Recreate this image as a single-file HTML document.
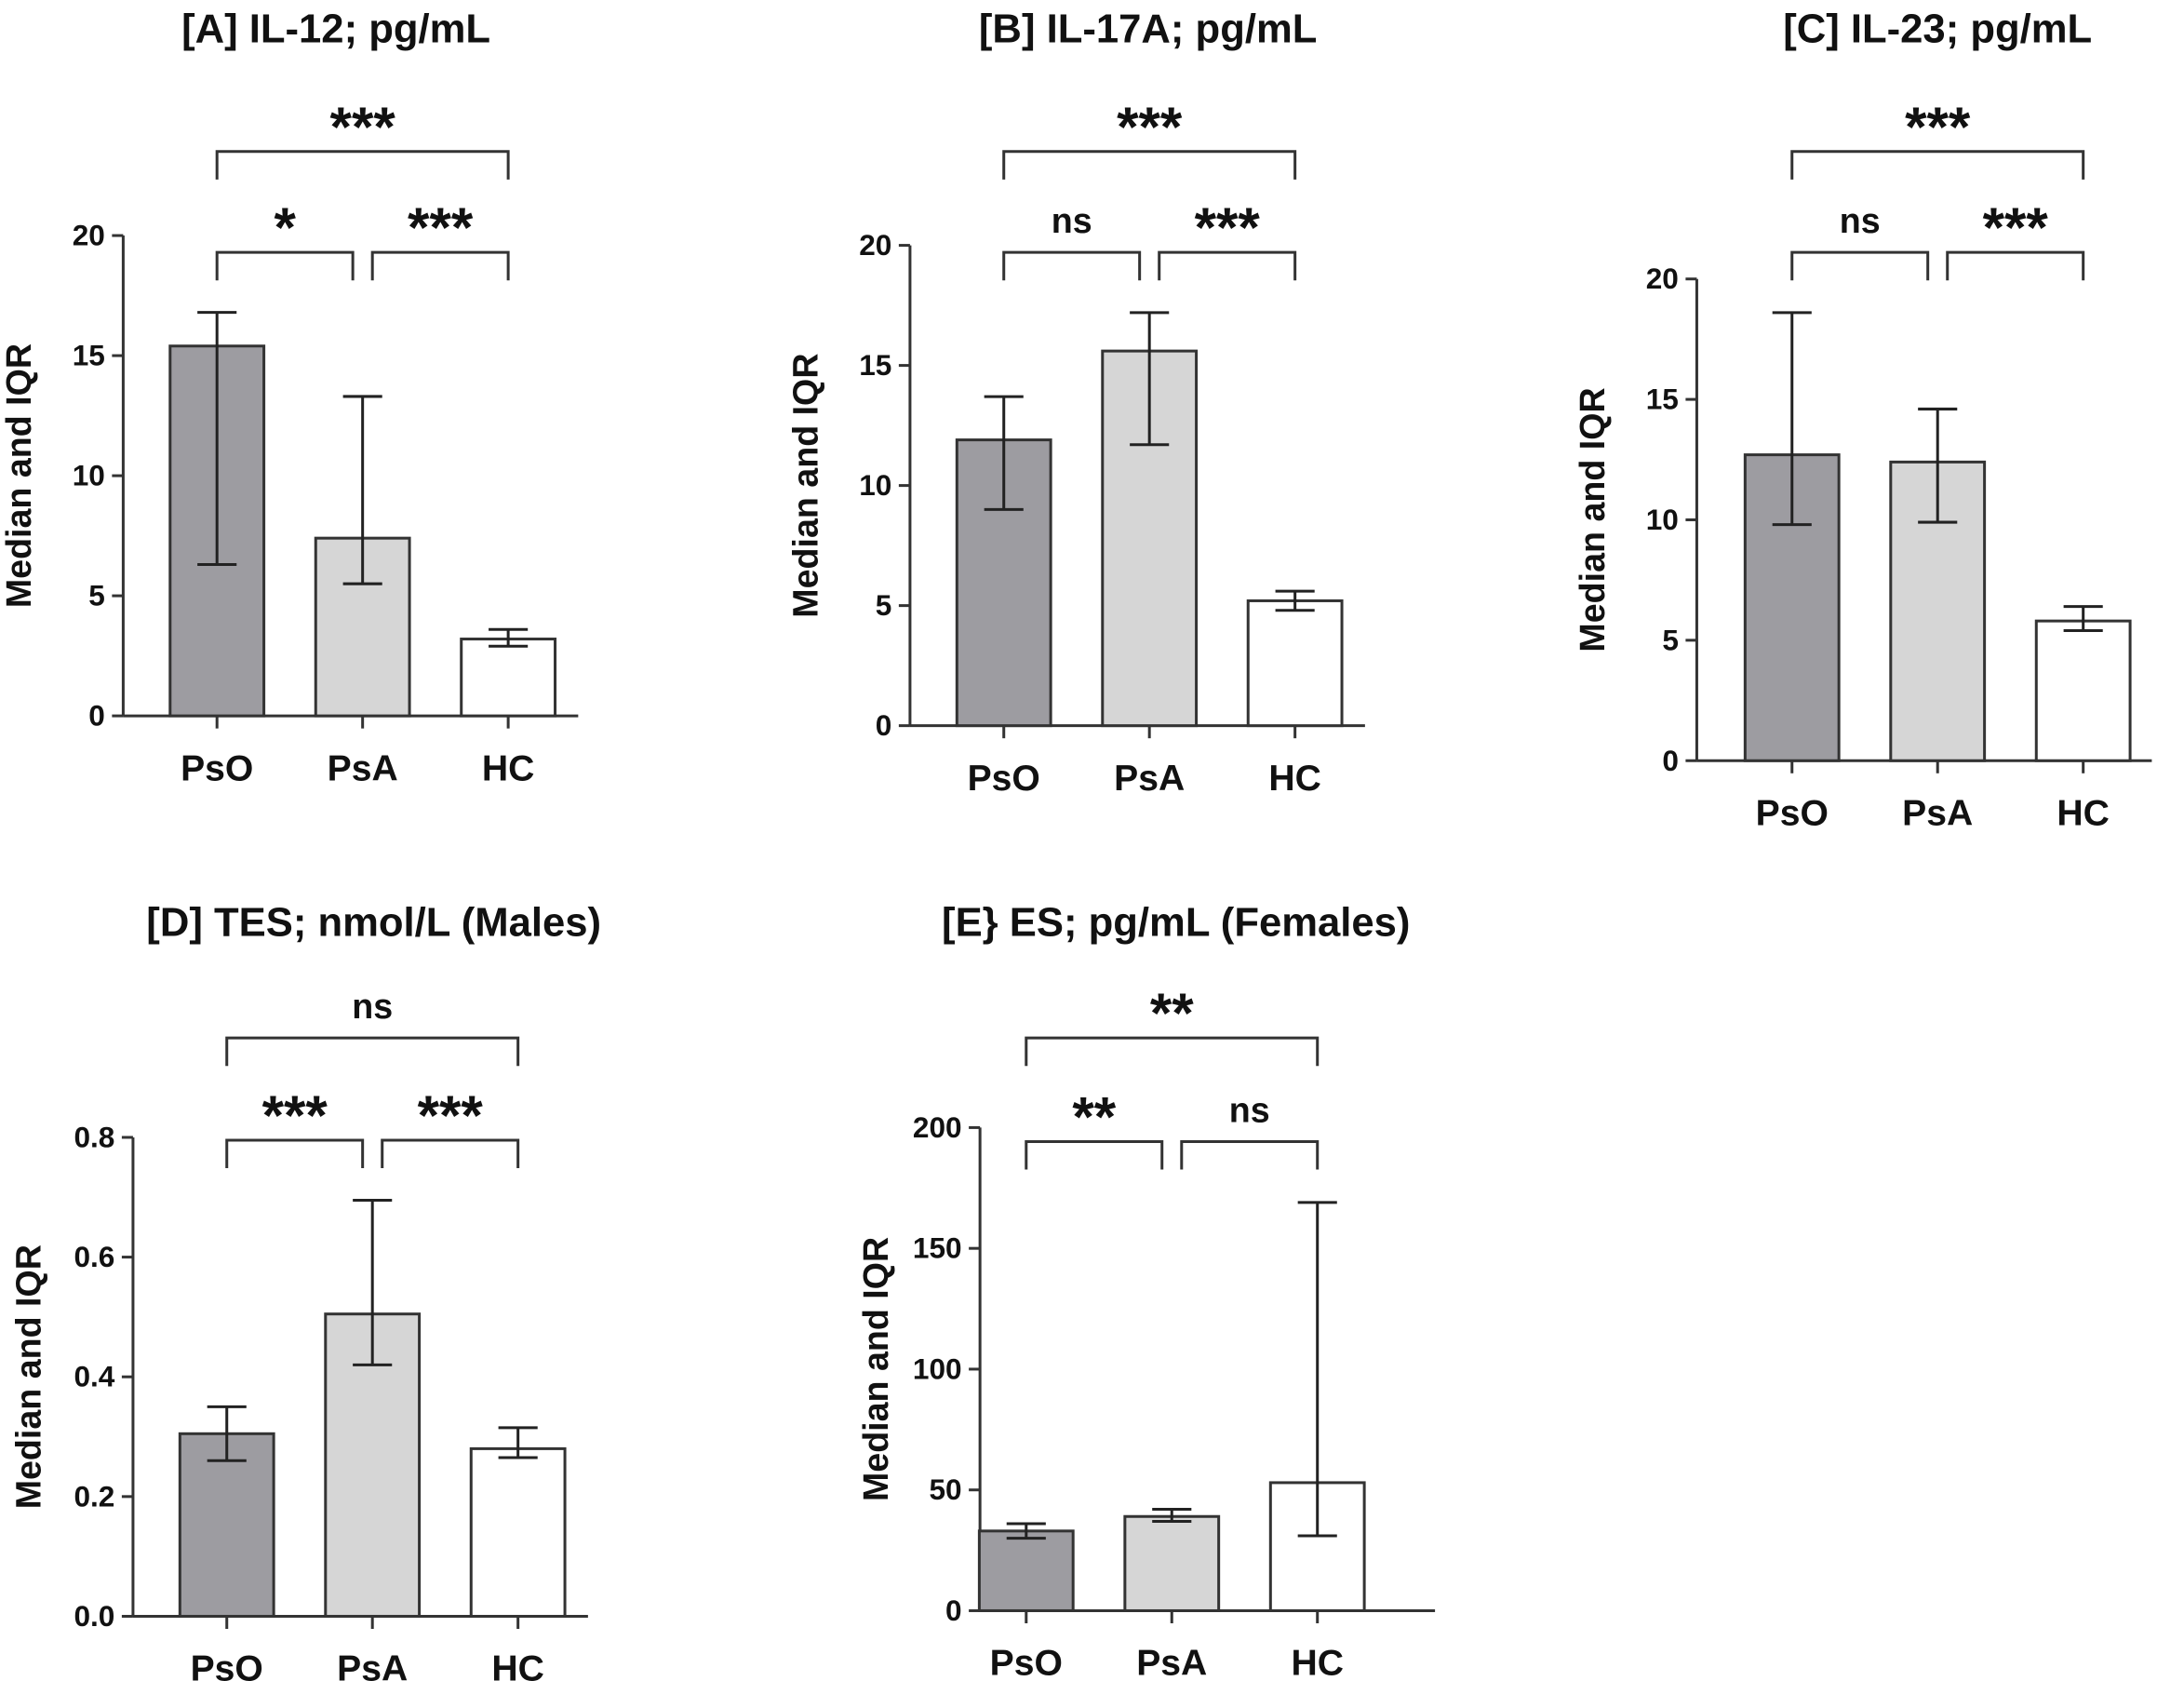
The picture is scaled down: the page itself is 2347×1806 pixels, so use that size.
<!DOCTYPE html>
<html><head><meta charset="utf-8"><style>
html,body{margin:0;padding:0;background:#fff}
svg{display:block}
text{font-family:"Liberation Sans",Arial,sans-serif;font-weight:bold;fill:#111}
</style></head><body>
<svg id="fig" width="2347" height="1806" viewBox="0 0 1560 1200"></svg>
<script>
const categories = ["PsO","PsA","HC"];
const titles = ["[A] IL-12; pg/mL","[B] IL-17A; pg/mL","[C] IL-23; pg/mL","[D] TES; nmol/L (Males)","[E} ES; pg/mL (Females)"];
const medA = [15.4, 7.4, 3.2], lowA = [6.3, 5.5, 2.9], highA = [16.8, 13.3, 3.6];
const medB = [11.9, 15.6, 5.2], lowB = [9.0, 11.7, 4.8], highB = [13.7, 17.2, 5.6];
const medC = [12.7, 12.4, 5.8], lowC = [9.8, 9.9, 5.4], highC = [18.6, 14.6, 6.4];
const medD = [0.305, 0.505, 0.28], lowD = [0.26, 0.42, 0.265], highD = [0.35, 0.695, 0.315];
const medE = [33, 39, 53], lowE = [30, 37, 31], highE = [36, 42, 169];
const ticksA = [0,5,10,15,20], ticksB = [0,5,10,15,20], ticksC = [0,5,10,15,20];
const ticksD = [0,0.2,0.4,0.6,0.8], ticksE = [0,50,100,150,200];
const tickLabD = ["0.0","0.2","0.4","0.6","0.8"];
const sigA = ["***","*","***"], sigB = ["***","ns","***"], sigC = ["***","ns","***"], sigD = ["ns","***","***"], sigE = ["**","**","ns"];
const fills = ["#9d9ca1","#d6d6d6","#ffffff"];

const svg = document.getElementById('fig');
const NS = "http://www.w3.org/2000/svg";
function mk(tag, attrs, parent){const e=document.createElementNS(NS,tag);for(const k in attrs)e.setAttribute(k,attrs[k]);(parent||svg).appendChild(e);return e;}
function txt(s, attrs, parent){const e=mk('text',attrs,parent);e.textContent=s;return e;}

const layouts = [
 {ax:88, y0:511, ytop:168, xEnd:413, c0:155, tx:240, ty:30, bt:108, bl:180},
 {ax:650, y0:518, ytop:175, xEnd:975, c0:717, tx:820, ty:30, bt:108, bl:180},
 {ax:1212, y0:543, ytop:199, xEnd:1537, c0:1280, tx:1384, ty:30, bt:108, bl:180},
 {ax:95, y0:1154, ytop:812, xEnd:420, c0:162, tx:267, ty:668, bt:741, bl:814},
 {ax:700, y0:1150, ytop:805, xEnd:1025, c0:733, tx:840, ty:668, bt:741, bl:815}
];
const data = [[medA,lowA,highA,ticksA,null,sigA],[medB,lowB,highB,ticksB,null,sigB],[medC,lowC,highC,ticksC,null,sigC],[medD,lowD,highD,ticksD,tickLabD,sigD],[medE,lowE,highE,ticksE,null,sigE]];
const letters = ['a','b','c','d','e'];

data.forEach((d,pi)=>{
  const L = layouts[pi];
  const [med,low,high,ticks,tlab,sig] = d;
  const g = mk('g',{});
  
  
  const tmax = ticks[ticks.length-1];
  const y = v => L.y0 - (v/tmax)*(L.y0-L.ytop);
  const x = i => L.c0 + i*104;
  const t = txt(titles[pi],{x:L.tx,y:L.ty,'font-size':29,'text-anchor':'middle'},g);
  
  
  const ya = mk('line',{x1:L.ax,y1:L.y0,x2:L.ax,y2:L.ytop,stroke:'#333','stroke-width':2},g);
  
  
  const xa = mk('line',{x1:L.ax,y1:L.y0,x2:L.xEnd,y2:L.y0,stroke:'#333','stroke-width':2},g);
  
  
  ticks.forEach((tv,ti)=>{
    mk('line',{x1:L.ax-8,y1:y(tv),x2:L.ax,y2:y(tv),stroke:'#333','stroke-width':2},g);
    const tl = txt(tlab?tlab[ti]:String(tv),{x:L.ax-13,y:y(tv)+7,'font-size':21,'text-anchor':'end'},g);
    
    
  });
  const yt = txt('Median and IQR',{x:0,y:0,'font-size':25,'text-anchor':'middle',transform:`translate(${L.ax-66},${(L.y0+L.ytop)/2}) rotate(-90)`},g);
  
  
  categories.forEach((c,i)=>{
    const cx = x(i);
    const b = mk('rect',{x:cx-33.5,y:y(med[i]),width:67,height:L.y0-y(med[i]),fill:fills[i],stroke:'#333','stroke-width':2},g);
    
    
    const e = mk('path',{d:`M${cx-14},${y(high[i])}H${cx+14}M${cx},${y(high[i])}V${y(low[i])}M${cx-14},${y(low[i])}H${cx+14}`,stroke:'#222','stroke-width':2,fill:'none'},g);
    
    
    mk('line',{x1:cx,y1:L.y0,x2:cx,y2:L.y0+9,stroke:'#333','stroke-width':2},g);
    const cl = txt(c,{x:cx,y:L.y0+46,'font-size':26,'text-anchor':'middle'},g);
    
    
  });
  const br = [[x(0),x(2),L.bt],[x(0),x(1)-7,L.bl],[x(1)+7,x(2),L.bl]];
  br.forEach((b,bi)=>{
    const p = mk('path',{d:`M${b[0]},${b[2]+20}V${b[2]}H${b[1]}V${b[2]+20}`,stroke:'#333','stroke-width':2,fill:'none'},g);
    
    
    const isStar = sig[bi].indexOf('*')>=0;
    const s = txt(sig[bi],{x:(b[0]+b[1])/2,y:b[2]-(isStar?4:14),'font-size':isStar?40:25,'text-anchor':'middle'},g);
    
    
  });
});
</script>
</body></html>
